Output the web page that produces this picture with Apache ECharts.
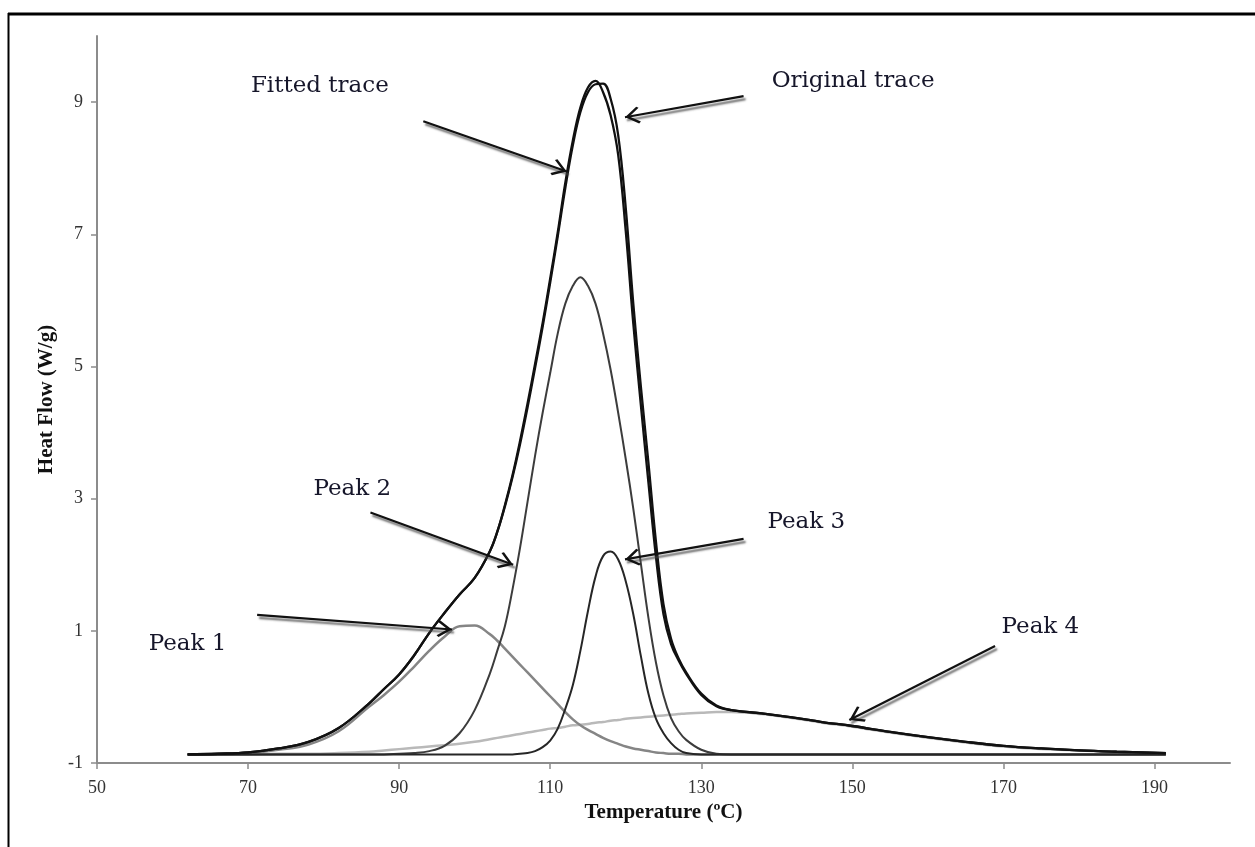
<!DOCTYPE html>
<html>
<head>
<meta charset="utf-8">
<script src="https://cdn.jsdelivr.net/npm/echarts@6/dist/echarts.min.js"></script>
<style>
  html, body { margin: 0; padding: 0; background: #fff; }
  #chart { width: 1255px; height: 847px; }
</style>
</head>
<body>
<div id="chart"></div>
<script>
// temperatures (°C) at which the traces were read
var temps = [62, 66, 70, 74, 78, 82, 86, 88, 90, 92, 94, 96, 98, 100,
  102, 103, 104, 105, 106, 107, 108, 109, 110,
  111, 112, 113, 114, 115, 116, 117, 118, 119, 120, 121, 122, 123, 124, 125, 126, 127, 128,
  130, 132, 134, 138, 142, 146, 150, 155, 160, 165, 170, 175, 180, 185, 191.5];

// heat flow (W/g)
var originalTrace = [-0.87, -0.86, -0.84, -0.78, -0.68, -0.47, -0.1, 0.12, 0.34, 0.63, 0.97, 1.27, 1.55, 1.8,
  2.2, 2.5, 2.88, 3.32, 3.82, 4.38, 4.98, 5.6, 6.27,
  6.97, 7.7, 8.35, 8.85, 9.15, 9.27, 9.28, 9.05, 8.5, 7.4, 5.95, 4.7, 3.55, 2.35, 1.4, 0.88, 0.58, 0.37,
  0.05, -0.13, -0.2, -0.25, -0.31, -0.38, -0.44, -0.53, -0.61, -0.68, -0.74, -0.78, -0.81, -0.83, -0.85];
var fittedTrace = [-0.87, -0.86, -0.84, -0.78, -0.68, -0.47, -0.1, 0.12, 0.34, 0.63, 0.97, 1.27, 1.55, 1.8,
  2.2, 2.5, 2.9, 3.35, 3.87, 4.44, 5.04, 5.66, 6.33,
  7.03, 7.78, 8.42, 8.92, 9.22, 9.32, 9.15, 8.8, 8.2, 7.05, 5.65, 4.42, 3.25, 2.12, 1.25, 0.8, 0.55, 0.35,
  0.03, -0.14, -0.2, -0.25, -0.31, -0.38, -0.44, -0.53, -0.61, -0.68, -0.74, -0.78, -0.81, -0.83, -0.85];
var peak1 = [-0.87, -0.87, -0.85, -0.8, -0.72, -0.52, -0.15, 0.03, 0.23, 0.46, 0.7, 0.91, 1.07, 1.08,
  0.95, 0.85, 0.73, 0.61, 0.49, 0.37, 0.25, 0.13, 0.01,
  -0.11, -0.23, -0.34, -0.43, -0.5, -0.56, -0.62, -0.67, -0.71, -0.75, -0.78, -0.8, -0.82, -0.84, -0.85, -0.86, -0.86, -0.87,
  -0.87, -0.87, -0.87, -0.87, -0.87, -0.87, -0.87, -0.87, -0.87, -0.87, -0.87, -0.87, -0.87, -0.87, -0.87];
var peak2 = [-0.87, -0.87, -0.87, -0.87, -0.87, -0.87, -0.87, -0.87, -0.86, -0.85, -0.82, -0.74, -0.55, -0.2,
  0.35, 0.7, 1.07, 1.62, 2.25, 2.95, 3.65, 4.3, 4.9,
  5.5, 5.95, 6.22, 6.35, 6.22, 5.95, 5.5, 4.95, 4.3, 3.6, 2.85, 2.02, 1.2, 0.52, 0.02, -0.32, -0.52, -0.65,
  -0.8, -0.86, -0.87, -0.87, -0.87, -0.87, -0.87, -0.87, -0.87, -0.87, -0.87, -0.87, -0.87, -0.87, -0.87];
var peak3 = [-0.87, -0.87, -0.87, -0.87, -0.87, -0.87, -0.87, -0.87, -0.87, -0.87, -0.87, -0.87, -0.87, -0.87,
  -0.87, -0.87, -0.87, -0.87, -0.86, -0.85, -0.82, -0.76, -0.66,
  -0.48, -0.18, 0.18, 0.7, 1.3, 1.82, 2.13, 2.2, 2.08, 1.75, 1.25, 0.62, 0.05, -0.33, -0.55, -0.7, -0.8, -0.85,
  -0.87, -0.87, -0.87, -0.87, -0.87, -0.87, -0.87, -0.87, -0.87, -0.87, -0.87, -0.87, -0.87, -0.87, -0.87];
var peak4 = [-0.87, -0.87, -0.87, -0.86, -0.86, -0.85, -0.83, -0.81, -0.79, -0.77, -0.75, -0.73, -0.71, -0.68,
  -0.64, -0.62, -0.6, -0.58, -0.56, -0.54, -0.52, -0.5, -0.48,
  -0.47, -0.45, -0.43, -0.42, -0.41, -0.39, -0.38, -0.36, -0.35, -0.33, -0.32, -0.31, -0.3, -0.29, -0.28, -0.27, -0.26, -0.25,
  -0.24, -0.23, -0.23, -0.26, -0.32, -0.39, -0.45, -0.54, -0.62, -0.69, -0.75, -0.79, -0.81, -0.83, -0.85];

var xTicks = [50, 70, 90, 110, 130, 150, 170, 190];
var yTicks = [-1, 1, 3, 5, 7, 9];

// callouts: label position and arrow from -> to, in data units
var callouts = [
  { text: 'Fitted trace',   at: [79.5, 9.24],  from: [93.2, 8.71],  to: [112.2, 7.95] },
  { text: 'Original trace', at: [150.1, 9.32], from: [135.6, 9.09], to: [119.9, 8.77] },
  { text: 'Peak 2',         at: [83.8, 3.14],  from: [86.2, 2.79],  to: [105.1, 2.0] },
  { text: 'Peak 1',         at: [62.0, 0.80],  from: [71.2, 1.24],  to: [97.0, 1.02] },
  { text: 'Peak 3',         at: [143.9, 2.65], from: [135.6, 2.39], to: [119.9, 2.08] },
  { text: 'Peak 4',         at: [174.9, 1.06], from: [168.9, 0.77], to: [149.6, -0.35] }
];

function pairs(vals) {
  return temps.map(function (t, i) { return [t, vals[i]]; });
}

function curve(name, vals, color, width) {
  return {
    name: name,
    type: 'line',
    data: pairs(vals),
    smooth: 0.4,
    showSymbol: false,
    symbol: 'none',
    lineStyle: { color: color, width: width },
    emphasis: { disabled: true },
    silent: true
  };
}

var chevron = 'path://M10,-13 L10,-13 Z M10,0 L20,11 L18.2,12.8 L10,3.8 L1.8,12.8 L0,11 Z';

var chart = echarts.init(document.getElementById('chart'));

var arrowSeries = curve('Original trace', originalTrace, '#111', 2.3);
arrowSeries.markLine = {
  silent: true,
  animation: false,
  symbol: ['none', chevron],
  symbolSize: [17, 30],
  label: { show: false },
  lineStyle: {
    color: '#111', width: 2.2, type: 'solid',
    shadowColor: 'rgba(70,70,70,0.8)', shadowOffsetX: 2, shadowOffsetY: 3, shadowBlur: 2
  },
  data: callouts.map(function (c) {
    return [{ coord: c.from }, { coord: c.to }];
  })
};

chart.setOption({
  animation: false,
  backgroundColor: '#fff',
  grid: { left: 97, right: 25, top: 36, bottom: 84 },
  xAxis: {
    type: 'value',
    min: 50,
    max: 200,
    name: 'Temperature (\u00baC)',
    nameLocation: 'middle',
    nameGap: 36,
    nameTextStyle: { fontFamily: 'Liberation Serif', fontWeight: 'bold', fontSize: 21, color: '#111' },
    axisLine: { onZero: false, lineStyle: { color: '#8c8c8c', width: 2 } },
    axisTick: { show: true, length: 6, customValues: xTicks, lineStyle: { color: '#8c8c8c', width: 1.5 } },
    axisLabel: { customValues: xTicks, margin: 16, fontFamily: 'Liberation Serif', fontSize: 18, color: '#333' },
    splitLine: { show: false }
  },
  yAxis: {
    type: 'value',
    min: -1,
    max: 10,
    name: 'Heat Flow (W/g)',
    nameLocation: 'middle',
    nameGap: 40,
    nameTextStyle: { fontFamily: 'Liberation Serif', fontWeight: 'bold', fontSize: 21, color: '#111' },
    axisLine: { show: true, onZero: false, lineStyle: { color: '#8c8c8c', width: 2 } },
    axisTick: { show: true, length: 6, customValues: yTicks, lineStyle: { color: '#8c8c8c', width: 1.5 } },
    axisLabel: { customValues: yTicks, margin: 14, fontFamily: 'Liberation Serif', fontSize: 18, color: '#333' },
    splitLine: { show: false }
  },
  series: [
    curve('Peak 4', peak4, '#b9b9b9', 2.5),
    curve('Peak 1', peak1, '#858585', 2.5),
    curve('Peak 2', peak2, '#3c3c3c', 2),
    curve('Peak 3', peak3, '#262626', 2),
    curve('Fitted trace', fittedTrace, '#111', 2.3),
    arrowSeries
  ]
});

// frame lines and callout texts
var graphics = [
  { type: 'line', shape: { x1: 8, y1: 14, x2: 1255, y2: 14 }, style: { stroke: '#000', lineWidth: 3 } },
  { type: 'line', shape: { x1: 8.5, y1: 13, x2: 8.5, y2: 847 }, style: { stroke: '#000', lineWidth: 2 } }
];
callouts.forEach(function (c) {
  var p = chart.convertToPixel({ xAxisIndex: 0, yAxisIndex: 0 }, c.at);
  graphics.push({
    type: 'text',
    x: p[0], y: p[1],
    style: {
      text: c.text,
      fill: '#16162a',
      font: '23px "DejaVu Serif"',
      align: 'center',
      verticalAlign: 'middle'
    }
  });
});
chart.setOption({ graphic: graphics });
</script>
</body>
</html>
